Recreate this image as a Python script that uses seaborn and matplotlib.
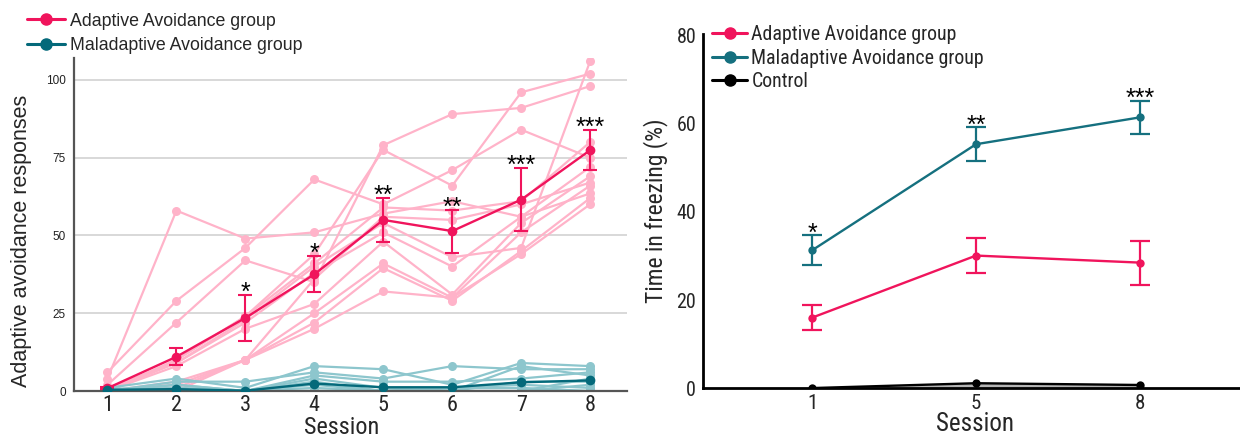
import numpy as np
import pandas as pd
import matplotlib
matplotlib.use("Agg")
import matplotlib.pyplot as plt
from matplotlib import font_manager
from matplotlib.lines import Line2D
import seaborn as sns

# ---------------- data ----------------
sessions = [1, 2, 3, 4, 5, 6, 7, 8]

# individual adaptive-avoidance subjects (responses per session)
adaptive_subjects = {
    "A1": [4, 58, 49, 51, 57, 61, 56, 63.5],
    "A2": [6, 29, 46, 68, 60, 71, 84, 75],
    "A3": [2, 22, 42, 35, 79, 89, 91, 98],
    "A4": [0, 10, 24, 44, 77.5, 66, 96, 102],
    "A5": [0, 10, 24, 41, 59, 58, 61, 80],
    "A6": [1, 9, 23, 40, 54, 43, 46, 106],
    "A7": [0, 9, 22, 38, 51, 40, 56, 72],
    "A8": [0, 8, 20, 28, 48, 31, 54, 69],
    "A9": [0, 3, 10, 25, 41, 30, 51, 66],
    "A10": [0, 2, 10, 22, 39.5, 29, 45, 62],
    "A11": [0, 1, 10, 20, 32, 30, 44, 60],
    "A12": [0, 0, 10, 36, 56, 55, 60, 67],
}
maladaptive_subjects = {
    "M1": [1, 4, 1, 8, 7, 2, 9, 8],
    "M2": [0, 3, 3, 6, 4, 8, 7, 7],
    "M3": [0, 2, 0, 5, 3, 3, 4, 6],
    "M4": [0, 1, 0, 4, 1, 0, 8, 5],
    "M5": [0, 0, 0, 2, 0, 0, 3, 3],
    "M6": [0, 0, 0, 0, 0, 0, 0, 2],
    "M7": [0, 2, 0, 1, 0, 1, 2, 1],
    "M8": [0, 0, 0, 0, 0, 0, 0, 0],
    "M9": [0, 1, 0, 3, 0, 0, 0, 4],
    "M10": [1, 0, 0, 0, 0, 1, 1, 0],
}
adaptive_mean = [0.9, 11.0, 23.5, 37.5, 55.0, 51.4, 61.5, 77.4]
adaptive_sem = [0.4, 2.8, 7.5, 5.8, 7.1, 6.9, 10.2, 6.5]
maladaptive_mean = [0.4, 0.6, 0.1, 2.4, 1.2, 1.2, 2.8, 3.4]
left_stars = ["", "", "*", "*", "**", "**", "***", "***"]

freeze_sessions = ["1", "5", "8"]
freeze_adaptive = [16.0, 30.1, 28.5]
freeze_adaptive_sem = [2.9, 4.0, 5.0]
freeze_maladaptive = [31.3, 55.4, 61.5]
freeze_maladaptive_sem = [3.4, 3.9, 3.8]
freeze_control = [0.0, 1.1, 0.7]
right_stars = ["*", "**", "***"]

# ---------------- style ----------------
sns.set_style("white")
avail = {f.name for f in font_manager.fontManager.ttflist}
narrow = next((f for f in ["Liberation Sans Narrow", "Roboto Condensed",
                           "Open Sans Condensed", "Liberation Sans"] if f in avail), "DejaVu Sans")
regular = "Liberation Sans" if "Liberation Sans" in avail else "DejaVu Sans"
plt.rcParams["font.family"] = [regular, "DejaVu Sans"]

PINK = "#F0145C"
PINK_L = "#FFB3C9"
TEAL = "#04697A"
TEAL_L = "#8DC6CD"
TEAL_R = "#15707F"

fig = plt.figure(figsize=(12.4, 4.38), dpi=100)
ax1 = fig.add_axes([0.0597, 0.1073, 0.446, 0.760])
ax2 = fig.add_axes([0.567, 0.114, 0.433, 0.809])

# ---------------- left panel ----------------
rows = []
for g, d in [("adaptive", adaptive_subjects), ("maladaptive", maladaptive_subjects)]:
    for sid, vals in d.items():
        for s, v in zip(sessions, vals):
            rows.append({"group": g, "subject": sid, "session": s, "value": v})
ind = pd.DataFrame(rows)

sns.lineplot(data=ind[ind.group == "adaptive"], x="session", y="value", units="subject",
             estimator=None, color=PINK_L, marker="o", markersize=6.5, markeredgewidth=0,
             linewidth=1.6, ax=ax1, legend=False, zorder=2)
sns.lineplot(data=ind[ind.group == "maladaptive"], x="session", y="value", units="subject",
             estimator=None, color=TEAL_L, marker="o", markersize=6.5, markeredgewidth=0,
             linewidth=1.6, ax=ax1, legend=False, zorder=2)

ax1.errorbar(sessions, adaptive_mean, yerr=adaptive_sem, fmt="none", ecolor=PINK,
             elinewidth=1.5, capsize=4.8, capthick=1.5, zorder=4)
sns.lineplot(x=sessions, y=adaptive_mean, color=PINK, marker="o", markersize=7,
             markeredgewidth=0, linewidth=1.7, ax=ax1, zorder=5)
sns.lineplot(x=sessions, y=maladaptive_mean, color=TEAL, marker="o", markersize=7,
             markeredgewidth=0, linewidth=1.7, ax=ax1, zorder=5)

for s, m, e, st in zip(sessions, adaptive_mean, adaptive_sem, left_stars):
    if st:
        ax1.annotate(st, (s, m + e), xytext=(0, -3.5), textcoords="offset points",
                     ha="center", va="baseline", fontsize=18, color="black", zorder=6)

ax1.set_xlim(0.515, 8.536)
ax1.set_ylim(0, 107)
ax1.set_xticks(sessions)
ax1.set_xticklabels([str(s) for s in sessions], fontfamily=narrow, fontsize=16)
ax1.set_yticks([0, 25, 50, 75, 100])
ax1.set_yticklabels(["0", "25", "50", "75", "100"], fontsize=8.5, color="#222222")
ax1.tick_params(axis="both", length=0)
ax1.tick_params(axis="x", pad=3)
ax1.tick_params(axis="y", pad=6)
ax1.yaxis.grid(True, color="#d2d2d2", linewidth=1.2)
ax1.set_axisbelow(True)
for sp in ["top", "right"]:
    ax1.spines[sp].set_visible(False)
for sp in ["left", "bottom"]:
    ax1.spines[sp].set_color("#555555")
    ax1.spines[sp].set_linewidth(1.6)
ax1.set_xlabel("Session", fontfamily=narrow, fontsize=17.5)
ax1.xaxis.set_label_coords(0.483, -0.075)
ax1.set_ylabel("Adaptive avoidance responses", fontsize=15.5)
ax1.yaxis.set_label_coords(-0.076, 0.45)

h_left = [Line2D([], [], color=PINK, marker="o", markersize=8, linewidth=2.2),
          Line2D([], [], color=TEAL, marker="o", markersize=8, linewidth=2.2)]
fig.legend(h_left, ["Adaptive Avoidance group", "Maladaptive Avoidance group"],
           loc="upper left", bbox_to_anchor=(0.022, 0.971), frameon=False,
           borderpad=0, borderaxespad=0, handlelength=2.1, handletextpad=0.3,
           labelspacing=0.4, prop={"family": regular, "size": 12.8})

# ---------------- right panel ----------------
xr = np.arange(len(freeze_sessions))
fz = pd.DataFrame({"session": np.tile(xr, 3),
                   "value": freeze_adaptive + freeze_maladaptive + freeze_control,
                   "group": ["Adaptive Avoidance group"] * 3 + ["Maladaptive Avoidance group"] * 3
                   + ["Control"] * 3})
pal = {"Adaptive Avoidance group": PINK, "Maladaptive Avoidance group": TEAL_R, "Control": "black"}

ax2.fill_between(xr, 0, freeze_control, color="#b5b5b5", linewidth=0, zorder=2)
ax2.errorbar(xr, freeze_adaptive, yerr=freeze_adaptive_sem, fmt="none", ecolor=PINK,
             elinewidth=1.6, capsize=7.4, capthick=1.6, zorder=3)
ax2.errorbar(xr, freeze_maladaptive, yerr=freeze_maladaptive_sem, fmt="none", ecolor=TEAL_R,
             elinewidth=1.6, capsize=7.4, capthick=1.6, zorder=3)
sns.lineplot(data=fz, x="session", y="value", hue="group", palette=pal, marker="o",
             markersize=6, markeredgewidth=0, linewidth=1.7, ax=ax2, legend=False, zorder=4)

for x, m, e, st in zip(xr, freeze_maladaptive, freeze_maladaptive_sem, right_stars):
    ax2.annotate(st, (x, m + e), xytext=(0, -4), textcoords="offset points",
                 ha="center", va="baseline", fontsize=18, color="black", zorder=6)

ax2.set_xlim(-0.665, 2.61)
ax2.set_ylim(0, 80.5)
ax2.set_xticks(xr)
ax2.set_xticklabels(freeze_sessions, fontfamily=narrow, fontsize=15)
ax2.set_yticks([0, 20, 40, 60, 80])
ax2.set_yticklabels(["0", "20", "40", "60", "80"], fontfamily=narrow, fontsize=14.5)
ax2.tick_params(axis="both", length=0)
ax2.tick_params(axis="x", pad=4)
ax2.tick_params(axis="y", pad=5)
for sp in ["top", "right"]:
    ax2.spines[sp].set_visible(False)
for sp in ["left", "bottom"]:
    ax2.spines[sp].set_color("black")
    ax2.spines[sp].set_linewidth(2.0)
ax2.set_xlabel("Session", fontfamily=narrow, fontsize=18)
ax2.xaxis.set_label_coords(0.506, -0.068)
ax2.set_ylabel("Time in freezing (%)", fontfamily=narrow, fontsize=17, labelpad=6)

h_right = [Line2D([], [], color=pal[g], marker="o", markersize=8, linewidth=2.2)
           for g in ["Adaptive Avoidance group", "Maladaptive Avoidance group", "Control"]]
ax2.legend(h_right, ["Adaptive Avoidance group", "Maladaptive Avoidance group", "Control"],
           loc="upper left", bbox_to_anchor=(0.016, 1.024), frameon=False,
           borderpad=0, borderaxespad=0, handlelength=1.8, handletextpad=0.2,
           labelspacing=0.22, prop={"family": narrow, "size": 14.3})

fig.savefig("out.png", dpi=100)
